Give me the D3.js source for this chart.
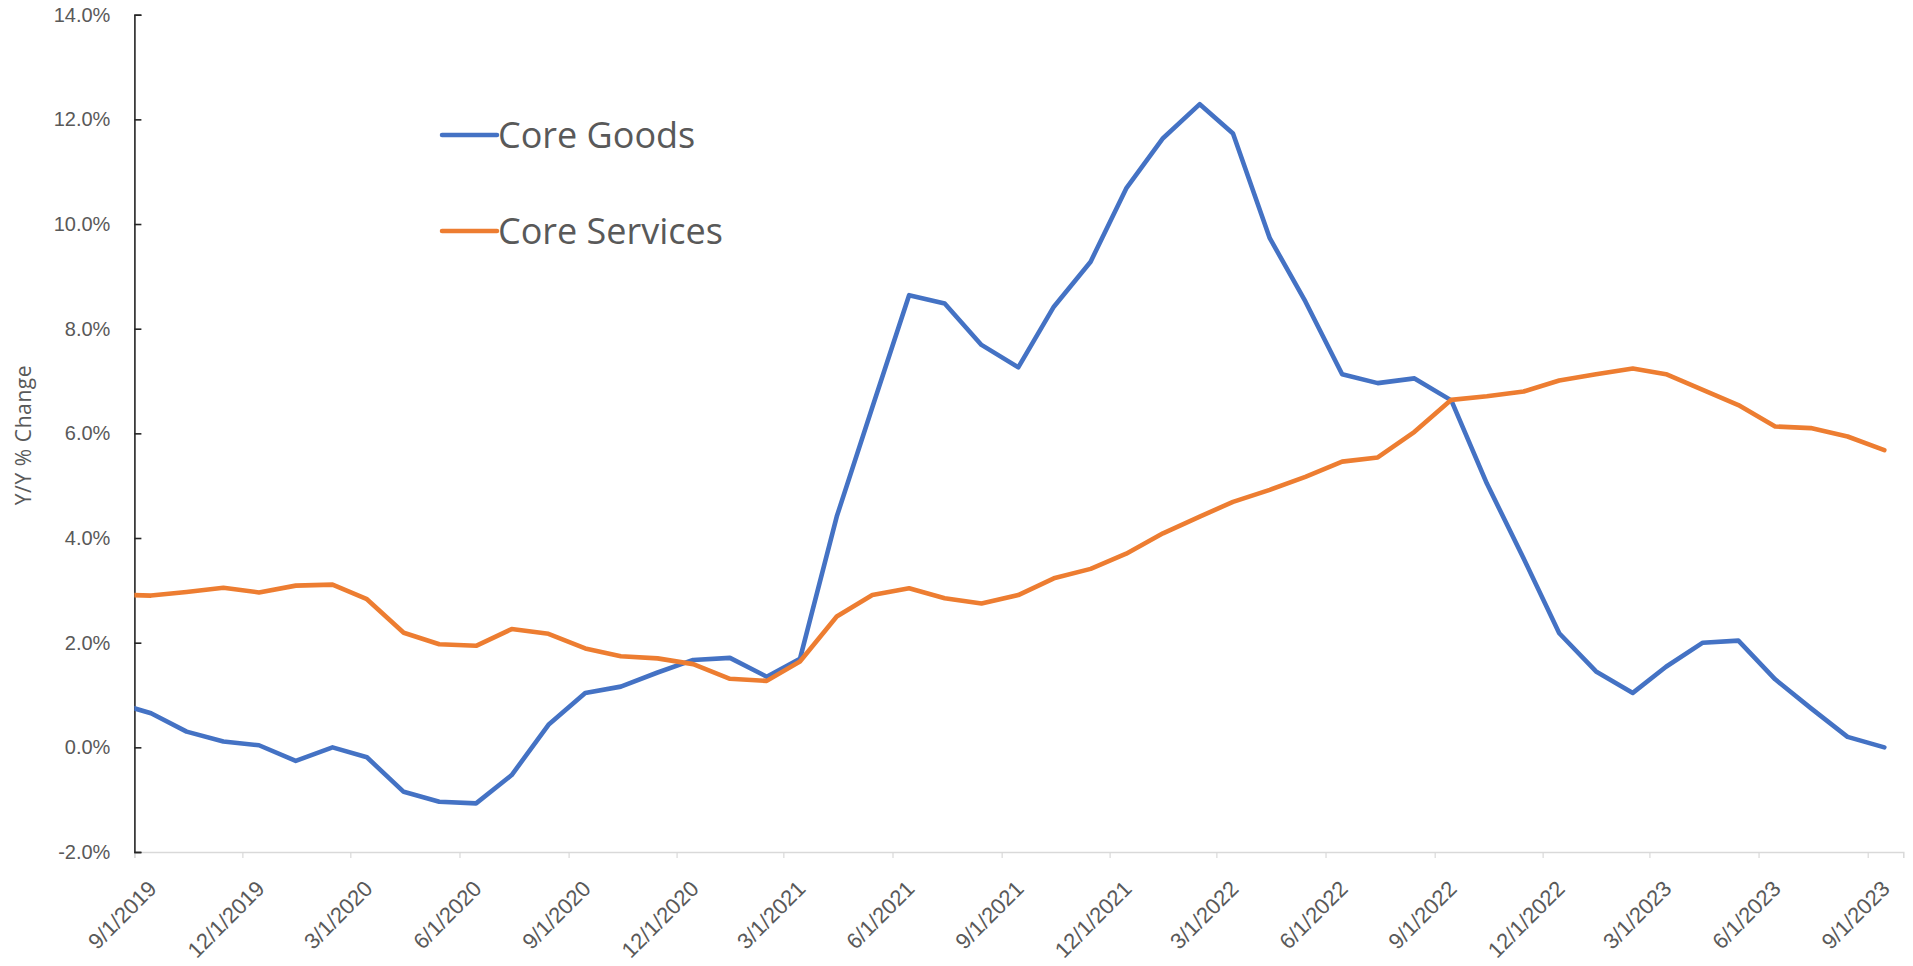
<!DOCTYPE html>
<html>
<head>
<meta charset="utf-8">
<script src="https://cdn.jsdelivr.net/npm/d3@7"></script>
<style>
  html, body { margin: 0; padding: 0; background: #ffffff; }
  svg { display: block; font-family: "Open Sans", "Liberation Sans", sans-serif; }
</style>
</head>
<body>
<svg id="chart" width="1913" height="966"></svg>
<script>
// Monthly observations (mid-month), Y/Y % change
const dates = [
  "2019-08-15","2019-09-15","2019-10-15","2019-11-15","2019-12-15",
  "2020-01-15","2020-02-15","2020-03-15","2020-04-15","2020-05-15","2020-06-15",
  "2020-07-15","2020-08-15","2020-09-15","2020-10-15","2020-11-15","2020-12-15",
  "2021-01-15","2021-02-15","2021-03-15","2021-04-15","2021-05-15","2021-06-15",
  "2021-07-15","2021-08-15","2021-09-15","2021-10-15","2021-11-15","2021-12-15",
  "2022-01-15","2022-02-15","2022-03-15","2022-04-15","2022-05-15","2022-06-15",
  "2022-07-15","2022-08-15","2022-09-15","2022-10-15","2022-11-15","2022-12-15",
  "2023-01-15","2023-02-15","2023-03-15","2023-04-15","2023-05-15","2023-06-15",
  "2023-07-15","2023-08-15","2023-09-15"
];

const coreGoods = [
  0.86, 0.65, 0.30, 0.11, 0.04,
  -0.26, 0.00, -0.19, -0.85, -1.04, -1.07,
  -0.53, 0.43, 1.04, 1.16, 1.43, 1.67,
  1.71, 1.35, 1.69, 4.41, 6.50, 8.64,
  8.48, 7.69, 7.26, 8.42, 9.28, 10.68,
  11.64, 12.29, 11.73, 9.73, 8.52, 7.13,
  6.96, 7.05, 6.63, 5.04, 3.61, 2.18,
  1.45, 1.04, 1.54, 2.00, 2.04, 1.30,
  0.75, 0.20, 0.00
];

const coreServices = [
  2.92, 2.90, 2.97, 3.05, 2.96,
  3.09, 3.11, 2.83, 2.19, 1.97, 1.94,
  2.26, 2.17, 1.89, 1.74, 1.70, 1.59,
  1.31, 1.27, 1.64, 2.50, 2.91, 3.04,
  2.85, 2.75, 2.91, 3.23, 3.41, 3.70,
  4.09, 4.41, 4.69, 4.92, 5.17, 5.46,
  5.54, 6.03, 6.64, 6.71, 6.80, 7.01,
  7.13, 7.24, 7.13, 6.83, 6.54, 6.13,
  6.10, 5.94, 5.68
];

const xTickLabels = [
  "9/1/2019","12/1/2019","3/1/2020","6/1/2020","9/1/2020","12/1/2020",
  "3/1/2021","6/1/2021","9/1/2021","12/1/2021","3/1/2022","6/1/2022",
  "9/1/2022","12/1/2022","3/1/2023","6/1/2023","9/1/2023"
];
const yTicks = [-2, 0, 2, 4, 6, 8, 10, 12, 14];

const seriesNames = ["Core Goods", "Core Services"];
const seriesColors = ["#4472C4", "#ED7D31"];

const parseIso = d3.utcParse("%Y-%m-%d");
const parseUs = d3.utcParse("%m/%d/%Y");

const svg = d3.select("#chart");
const plotLeft = 134.4, plotRight = 1903.3, plotTop = 14.7, plotBottom = 852;
const textColor = "#595959";

const x = d3.scaleUtc()
  .domain([parseUs("9/1/2019"), parseUs("10/1/2023")])
  .range([plotLeft, plotRight]);
const y = d3.scaleLinear().domain([-2, 14]).range([plotBottom, plotTop]);

// plot-area clip
svg.append("defs").append("clipPath").attr("id", "plotClip")
  .append("rect").attr("x", plotLeft).attr("y", 0)
  .attr("width", plotRight - plotLeft).attr("height", plotBottom + 10);

// x axis
const xAxis = d3.axisBottom(x)
  .tickValues(xTickLabels.map(parseUs))
  .tickSize(6)
  .tickFormat((d, i) => xTickLabels[i]);
const gx = svg.append("g").attr("transform", `translate(0,${plotBottom})`).call(xAxis);
gx.select(".domain").attr("stroke", "#d9d9d9").attr("stroke-width", 1.5);
gx.selectAll(".tick line").attr("stroke", "#d9d9d9").attr("stroke-width", 1.2);
gx.selectAll(".tick text")
  .attr("fill", textColor)
  .style("font-size", "22px")
  .attr("text-anchor", "end")
  .attr("dy", null)
  .attr("y", null)
  .attr("transform", "translate(23,38) rotate(-45)");

// y axis
const yAxis = d3.axisLeft(y)
  .tickValues(yTicks)
  .tickSize(-7)
  .tickPadding(24)
  .tickFormat(d => d.toFixed(1) + "%");
const gy = svg.append("g").attr("transform", `translate(${plotLeft},0)`).call(yAxis);
gy.select(".domain").attr("stroke", "#262626").attr("stroke-width", 1.6);
gy.selectAll(".tick line").attr("stroke", "#262626").attr("stroke-width", 1.6);
gy.selectAll(".tick text").attr("fill", textColor).style("font-size", "20px");

// y axis title
svg.append("text")
  .attr("transform", "translate(31,435) rotate(-90)")
  .attr("text-anchor", "middle")
  .attr("fill", textColor)
  .style("font-size", "21px")
  .style("letter-spacing", "0.6px")
  .text("Y/Y % Change");

// series lines
const series = [coreGoods, coreServices];
const line = d3.line()
  .x(d => x(d.date))
  .y(d => y(d.value));

series.forEach((vals, k) => {
  const pts = dates.map((d, i) => ({ date: parseIso(d), value: vals[i] }));
  svg.append("path")
    .datum(pts)
    .attr("clip-path", "url(#plotClip)")
    .attr("fill", "none")
    .attr("stroke", seriesColors[k])
    .attr("stroke-width", 4.6)
    .attr("stroke-linejoin", "round")
    .attr("stroke-linecap", "round")
    .attr("d", line);
});

// legend
const legend = svg.append("g").attr("transform", "translate(442,135)");
seriesNames.forEach((name, k) => {
  const row = legend.append("g").attr("transform", `translate(0,${k * 96})`);
  row.append("line")
    .attr("x1", 0).attr("x2", 55).attr("y1", 0).attr("y2", 0)
    .attr("stroke", seriesColors[k]).attr("stroke-width", 4.5)
    .attr("stroke-linecap", "round");
  row.append("text")
    .attr("x", 56).attr("y", 0).attr("dy", "0.35em")
    .attr("fill", textColor)
    .style("font-size", "36px")
    .text(name);
});
</script>
</body>
</html>
